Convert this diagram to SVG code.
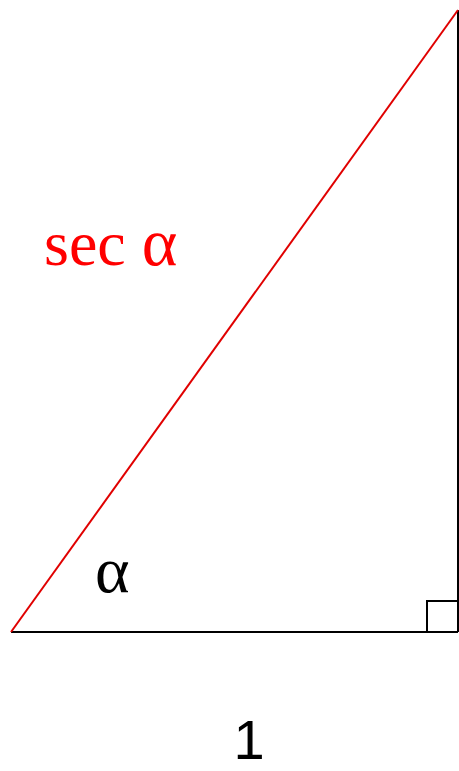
<svg xmlns="http://www.w3.org/2000/svg" width="459" height="771" viewBox="0 0 459 771">
<style>
.k{stroke:#000;stroke-width:2;fill:none}
.r{stroke:#e00000;stroke-width:2;fill:none}
.serif{font-family:"Liberation Serif","Times New Roman",serif}
.sans{font-family:"Liberation Sans",Arial,sans-serif}
</style>
<rect width="459" height="771" fill="#fff"/>
<g id="connectors">
<line class="k" x1="11" y1="632" x2="458" y2="632"/>
<line class="k" x1="458" y1="10" x2="458" y2="632"/>
<line class="r" x1="11" y1="632" x2="458" y2="10"/>
<polyline class="k" points="427,632 427,601 458,601"/>
</g>
<g id="labels">
<text class="serif" x="44" y="265" font-size="64" fill="#ff0000">sec <tspan font-size="68">α</tspan></text>
<text class="serif" x="95" y="592" font-size="66" fill="#000">α</text>
<text class="sans" x="249" y="759" font-size="56" fill="#000" text-anchor="middle">1</text>
</g>
</svg>
